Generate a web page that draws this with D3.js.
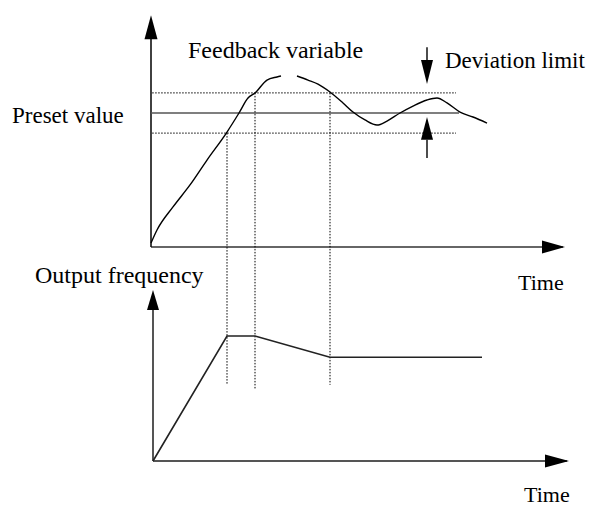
<!DOCTYPE html>
<html>
<head>
<meta charset="utf-8">
<script src="https://cdn.jsdelivr.net/npm/d3@7"></script>
<style>
  body { margin: 0; background: #fff; }
  text { font-family: "Liberation Serif", "Times New Roman", serif; fill: #000; }
</style>
</head>
<body>
<div id="chart"></div>
<script>
// feedback variable (top panel), null = gap in the drawn curve
const feedbackTime = [0, 1.5, 5.5, 9.75, 14, 19, 22, 24.25, 26, 29, 31.5, 32.5, 33, 36.5, 39.25, 41.75, 44.75, 48, 50.5, 53.5, 56.5, 59, 62.25, 65.5, 69, 71.5, 74, 77.25, 80.5, 84];
const feedbackValue = [3, 12.7, 29.9, 46.3, 64.9, 85.8, 100, 111.2, 114.9, 124.6, 126.9, 127.6, null, 127.6, 124.6, 121.6, 115.7, 107.5, 100.7, 94.8, 91, 94, 100, 105.2, 109.7, 111.2, 107.5, 100.7, 97, 92.5];

// preset value and deviation band
const presetValue = 100;
const deviationLimit = 15;
const presetEnd = 77; // solid line end (time)
const bandEnd = 76.25; // dotted lines end (time)
const deviationTime = 69;
const deviationDown = [149, 139.6, 121.6]; // shaft top, head base, tip
const deviationUp = [66.4, 80, 97]; // shaft bottom, head base, tip

// dotted guides between the two panels
const guideTime = [19, 26, 44.75];
const guideTopValue = [85, 115, 115];
const guideBottomValue = [61, 57, 61];

// output frequency (bottom panel)
const freqTime = [0.5, 19, 26, 44.75, 82.75];
const freqValue = [0, 100, 100, 83, 83];

// labels
const labels = [
  { text: "Feedback variable", x: 188, y: 58, size: 24 },
  { text: "Deviation limit", x: 445, y: 68, size: 23 },
  { text: "Preset value", x: 12, y: 123, size: 23 },
  { text: "Output frequency", x: 35, y: 283, size: 24 },
  { text: "Time", x: 518, y: 290, size: 22 },
  { text: "Time", x: 524, y: 502, size: 22 },
];

const width = 590;
const height = 507;

const x = d3.scaleLinear().domain([0, 100]).range([151, 551]);
const yTop = d3.scaleLinear().domain([0, 100]).range([247, 113]);
const yBottom = d3.scaleLinear().domain([0, 100]).range([461, 336]);

const svg = d3
  .select("#chart")
  .append("svg")
  .attr("width", width)
  .attr("height", height)
  .attr("viewBox", `0 0 ${width} ${height}`);

// arrowhead polygon, tip at (tx, ty)
const arrowHead = (tx, ty, dir, len, half) => {
  let pts;
  if (dir === "up") pts = [[tx, ty], [tx - half, ty + len], [tx + half, ty + len]];
  else if (dir === "down") pts = [[tx, ty], [tx - half, ty - len], [tx + half, ty - len]];
  else pts = [[tx, ty], [tx - len, ty - half], [tx - len, ty + half]];
  svg.append("path").attr("d", d3.line()(pts) + "Z").attr("fill", "#000");
};

// --- top axes
svg.append("line")
  .attr("x1", x(0)).attr("x2", x(103))
  .attr("y1", yTop(0)).attr("y2", yTop(0))
  .attr("stroke", "#333").attr("stroke-width", 1.6);
svg.append("line")
  .attr("x1", x(0)).attr("x2", x(0))
  .attr("y1", yTop(0)).attr("y2", yTop(165))
  .attr("stroke", "#111").attr("stroke-width", 1.6);
arrowHead(x(103.5), yTop(0), "right", 23, 6.5);
arrowHead(x(0), yTop(173), "up", 24, 6.5);

// --- bottom axes
svg.append("line")
  .attr("x1", x(0.5)).attr("x2", x(104))
  .attr("y1", yBottom(0)).attr("y2", yBottom(0))
  .attr("stroke", "#555").attr("stroke-width", 2);
svg.append("line")
  .attr("x1", x(0.5)).attr("x2", x(0.5))
  .attr("y1", yBottom(0)).attr("y2", yBottom(130))
  .attr("stroke", "#555").attr("stroke-width", 2);
arrowHead(x(104.5), yBottom(0), "right", 24, 6.5);
arrowHead(x(0.5), yBottom(136.8), "up", 20, 6);

// --- preset value and deviation band
svg.append("line")
  .attr("x1", x(0)).attr("x2", x(presetEnd))
  .attr("y1", yTop(presetValue)).attr("y2", yTop(presetValue))
  .attr("stroke", "#555").attr("stroke-width", 1.5);
[presetValue + deviationLimit, presetValue - deviationLimit].forEach((v) => {
  svg.append("line")
    .attr("x1", x(0.3)).attr("x2", x(bandEnd))
    .attr("y1", yTop(v)).attr("y2", yTop(v))
    .attr("stroke", "#000").attr("stroke-width", 1)
    .attr("stroke-dasharray", "1.5,1.5");
});

// --- guides
guideTime.forEach((t, i) => {
  svg.append("line")
    .attr("x1", x(t)).attr("x2", x(t))
    .attr("y1", yTop(guideTopValue[i])).attr("y2", yBottom(guideBottomValue[i]))
    .attr("stroke", "#000").attr("stroke-width", 1)
    .attr("stroke-dasharray", "1.5,1.5");
});

// --- feedback curve
const feedbackLine = d3
  .line()
  .defined((d) => d[1] !== null)
  .x((d) => x(d[0]))
  .y((d) => yTop(d[1]))
  .curve(d3.curveMonotoneX);
svg.append("path")
  .attr("d", feedbackLine(feedbackTime.map((t, i) => [t, feedbackValue[i]])))
  .attr("fill", "none").attr("stroke", "#000").attr("stroke-width", 1.4);

// --- output frequency
const freqLine = d3.line().x((d) => x(d[0])).y((d) => yBottom(d[1]));
svg.append("path")
  .attr("d", freqLine(freqTime.map((t, i) => [t, freqValue[i]])))
  .attr("fill", "none").attr("stroke", "#222").attr("stroke-width", 1.6);

// --- deviation limit arrows
svg.append("line")
  .attr("x1", x(deviationTime)).attr("x2", x(deviationTime))
  .attr("y1", yTop(deviationDown[0])).attr("y2", yTop(deviationDown[1]))
  .attr("stroke", "#000").attr("stroke-width", 1.4);
arrowHead(x(deviationTime), yTop(deviationDown[2]), "down", yTop(deviationDown[2]) - yTop(deviationDown[1]), 6);
svg.append("line")
  .attr("x1", x(deviationTime)).attr("x2", x(deviationTime))
  .attr("y1", yTop(deviationUp[0])).attr("y2", yTop(deviationUp[1]))
  .attr("stroke", "#000").attr("stroke-width", 1.4);
arrowHead(x(deviationTime), yTop(deviationUp[2]), "up", yTop(deviationUp[1]) - yTop(deviationUp[2]), 6);

// --- labels
svg.selectAll("text.label")
  .data(labels)
  .enter()
  .append("text")
  .attr("class", "label")
  .attr("x", (d) => d.x)
  .attr("y", (d) => d.y)
  .attr("font-size", (d) => `${d.size}px`)
  .text((d) => d.text);
</script>
</body>
</html>
